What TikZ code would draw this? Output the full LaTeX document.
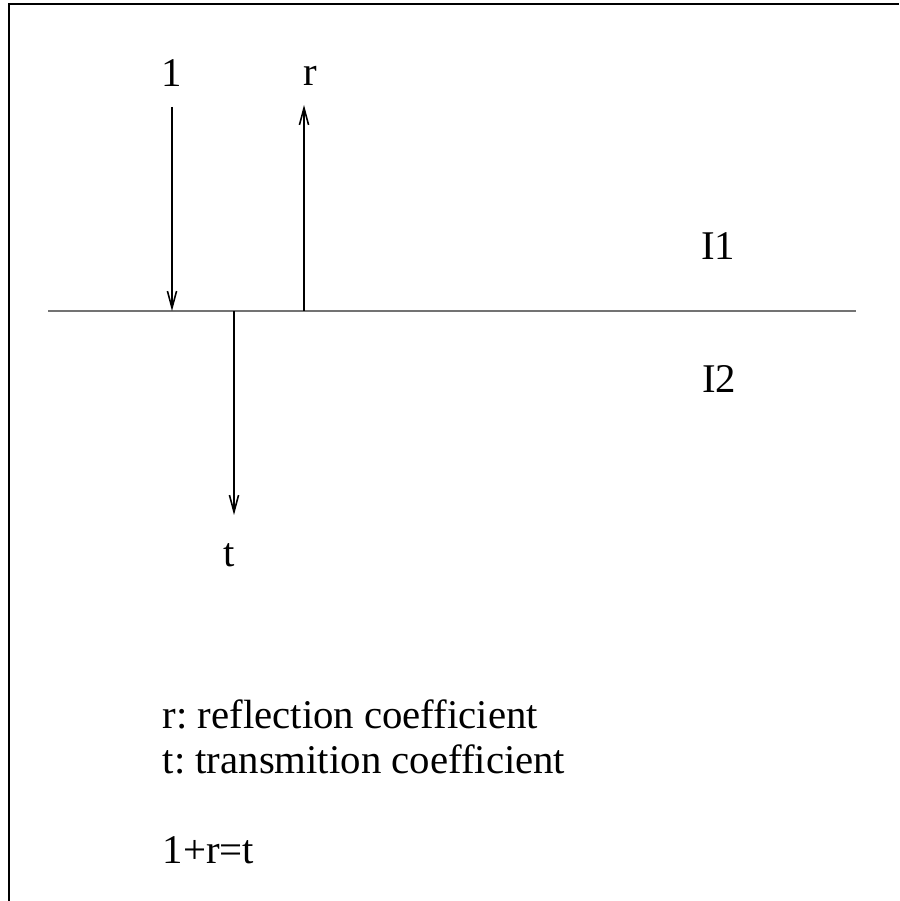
\documentclass[tikz,border=0pt]{standalone}
\usepackage{fontspec}
\setmainfont{Liberation Serif}
\usetikzlibrary{arrows.meta,positioning}
\frenchspacing
\tikzset{
  lbl/.style={inner sep=0pt, anchor=base, font=\fontsize{11.6}{14}\selectfont},
  legend/.style={lbl, anchor=base west},
  ray/.style={-{Straight Barb[length=4.8pt, width=2.6pt]}, line width=0.45pt, black},
  frame/.style={line width=0.7pt, black},
  interface/.style={line width=0.45pt, black!55},
}
\begin{document}
\begin{tikzpicture}[x=0.01cm, y=-0.01cm]
\useasboundingbox (0,0) rectangle (899,901);
\draw[frame] (9,901) -- (9,4) -- (899,4);

% interface between the two media
\coordinate (ifL) at (48,311);
\coordinate (ifR) at (856,311);
\draw[interface] (ifL) -- (ifR);
\node[lbl] (med1) at (718,260) {I1};
\node[lbl] (med2) at (719,393) {I2};

% incident, reflected and transmitted waves
\node[lbl] (one) at (172,87) {1};
\node[lbl] (refl) at (310,86) {r};
\node[lbl] (trans) at (229,566) {t};
\coordinate (inTop) at (172,107);
\coordinate (inHit) at (172,311);
\coordinate (reHit) at (304,311);
\coordinate (reTop) at (304,105);
\coordinate (trHit) at (234,311);
\coordinate (trTip) at (234,515);
\foreach \a/\b in {inTop/inHit, reHit/reTop, trHit/trTip}
  \draw[ray] (\a) -- (\b);

% legend
\node[legend] (rdef) at (162,728) {r: reflection coefficient};
\node[legend] (tdef) at (162,773) {t: transmition coefficient};
\node[legend] (rel) at (162,863) {1+r=t};
\end{tikzpicture}
\end{document}
